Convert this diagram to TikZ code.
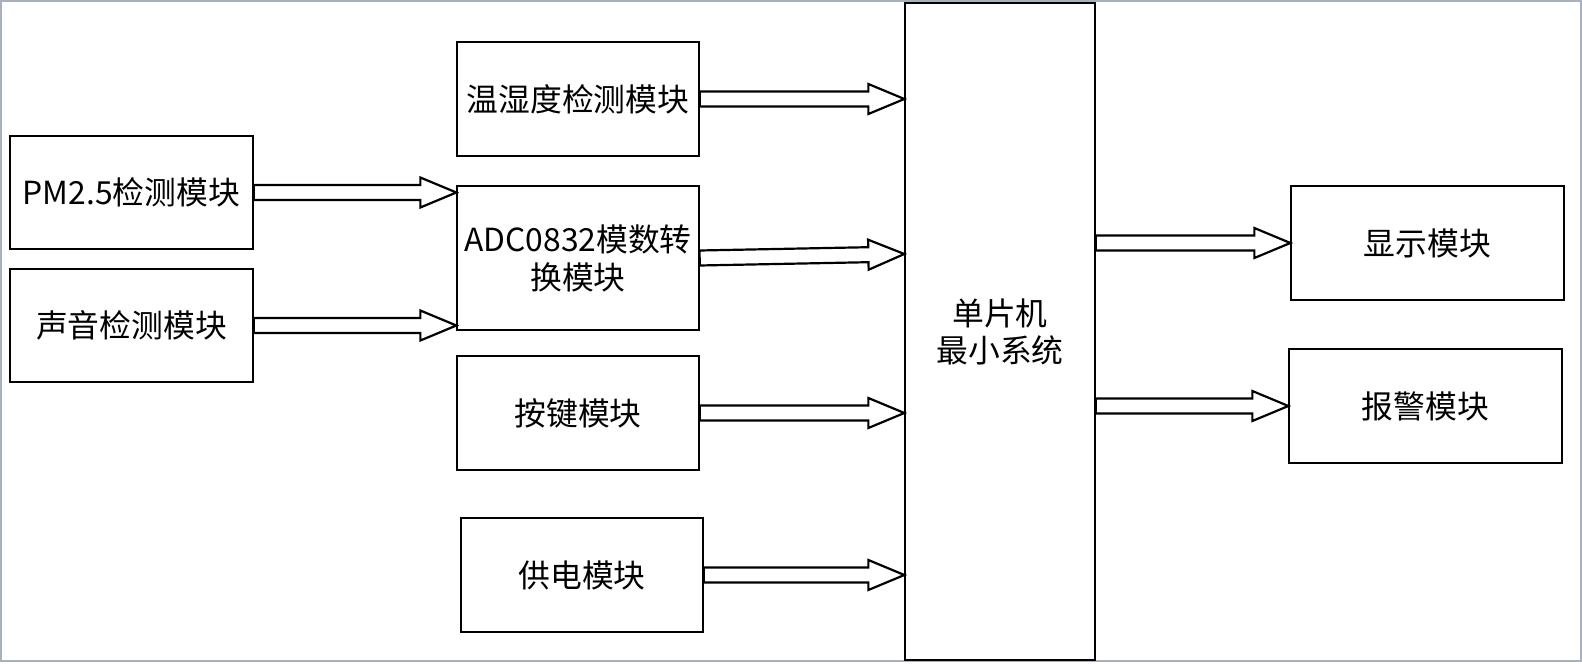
\documentclass[tikz,border=0pt]{standalone}
\usepackage{fontspec}
\newfontfamily\cjk{Noto Sans CJK SC}
\usetikzlibrary{calc}
\definecolor{framegray}{RGB}{170,177,190}
\newcommand\blkarr[2]{%
  \coordinate (s) at (#1);
  \coordinate (e) at (#2);
  \coordinate (hb) at ($(e)!18pt!(s)$);
  \draw[arr] ($(s)!3.75pt!90:(e)$) -- ($(hb)!3.75pt!90:(e)$) -- ($(hb)!7.5pt!90:(e)$) -- (e)
    -- ($(hb)!7.5pt!-90:(e)$) -- ($(hb)!3.75pt!-90:(e)$) -- ($(s)!3.75pt!-90:(e)$) -- cycle;}
\begin{document}
\begin{tikzpicture}[x=0.5pt,y=-0.5pt,
  box/.style={draw,line width=0.65pt,inner sep=0pt,align=center,
    font=\cjk\fontsize{15.9pt}{18.5pt}\selectfont},
  arr/.style={draw,fill=white,line width=1.1pt,line join=miter}]
\useasboundingbox (0,0) rectangle (1582,663);
\draw[framegray,line width=1pt] (1,1) rectangle (1581,661);
\node[box,minimum width=121.5pt,minimum height=56.5pt] (pm) at (131.5,192.5) {PM2.5检测模块};
\node[box,minimum width=121.5pt,minimum height=56.5pt] (snd) at (131.5,325.5) {声音检测模块};
\node[box,minimum width=121pt,minimum height=57pt] (temp) at (578,99) {温湿度检测模块};
\node[box,minimum width=121pt,minimum height=72pt] (adc) at (578,258) {ADC0832模数转\\[0.5pt]换模块};
\node[box,minimum width=121pt,minimum height=57pt] (key) at (578,413) {按键模块};
\node[box,minimum width=121pt,minimum height=57pt] (pwr) at (582,575) {供电模块};
\node[box,minimum width=95pt,minimum height=328.5pt] (mcu) at (1000,331.5) {单片机\\最小系统};
\node[box,minimum width=136.5pt,minimum height=57pt] (disp) at (1427.5,243) {显示模块};
\node[box,minimum width=136.5pt,minimum height=57pt] (alarm) at (1425.5,406) {报警模块};
\blkarr{temp.east}{temp.east -| mcu.west}
\blkarr{pm.east}{pm.east -| adc.west}
\blkarr{snd.east}{snd.east -| adc.west}
\blkarr{adc.east}{$(adc.east -| mcu.west)+(0,-4)$}
\blkarr{key.east}{key.east -| mcu.west}
\blkarr{pwr.east}{pwr.east -| mcu.west}
\blkarr{mcu.east |- disp.west}{disp.west}
\blkarr{mcu.east |- alarm.west}{alarm.west}
\end{tikzpicture}
\end{document}
